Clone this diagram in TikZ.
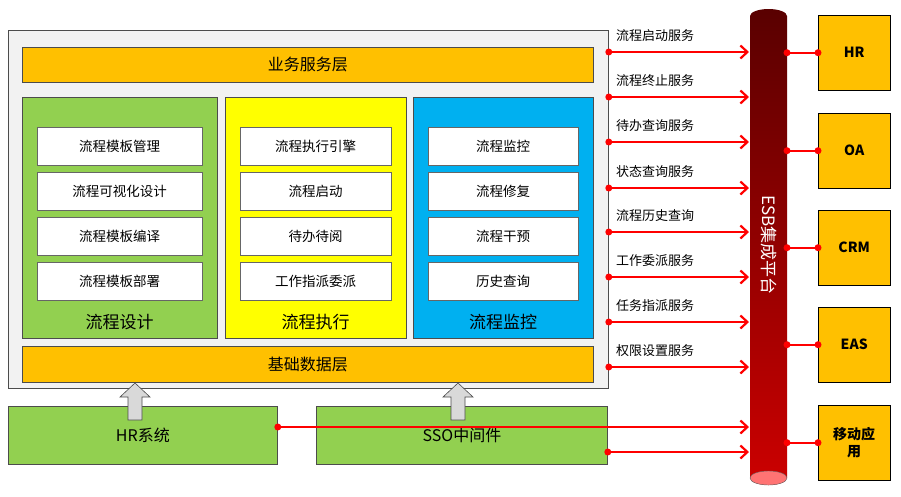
\documentclass[tikz,border=0pt]{standalone}
\usepackage{fontspec}
\setmainfont{Noto Sans CJK SC}
\usetikzlibrary{arrows.meta,shapes.geometric,calc}
\definecolor{org}{HTML}{FFC000}
\definecolor{grn}{HTML}{92D050}
\definecolor{ylw}{HTML}{FFFF00}
\definecolor{blu}{HTML}{00B0F0}
\begin{document}
\begin{tikzpicture}[x=1pt,y=-1pt,
  box/.style={draw=black!70,line width=0.8pt,minimum width=#1,anchor=north west,inner sep=0pt},
  wb/.style={draw=black!60,fill=white,minimum width=165pt,minimum height=38pt,anchor=north west,font=\fontsize{13.5}{14}\selectfont},
  rb/.style={draw=black,fill=org,minimum width=72pt,minimum height=75pt,anchor=north west,font=\bfseries\fontsize{14}{17}\selectfont,align=center},
  ar/.style={red,line width=2.2pt,-{Straight Barb[length=7pt,width=13pt]}},
  ln/.style={red,line width=2.2pt},
  dt/.style={circle,fill=red,inner sep=0pt,minimum size=7pt},
  lb/.style={anchor=west,font=\fontsize{13}{14}\selectfont,inner sep=1pt},
  up/.style={draw=black!70,fill=black!15,line width=0.6pt}]
\useasboundingbox (0,0) rectangle (901,496);
\node[box=600pt,minimum height=358pt,fill=black!5] (outer) at (8,30) {};
\node[box=571pt,minimum height=35pt,fill=org,font=\fontsize{16}{17}\selectfont] (yw) at (22,47) {业务服务层};
\node[box=195pt,minimum height=241pt,fill=grn] (p1) at (22,97) {};
\node[box=181pt,minimum height=241pt,fill=ylw] (p2) at (225,97) {};
\node[box=180pt,minimum height=241pt,fill=blu] (p3) at (413,97) {};
\node[font=\fontsize{17}{18}\selectfont] (t1) at (119.5,322) {流程设计};
\node[font=\fontsize{17}{18}\selectfont] (t2) at (315.5,322) {流程执行};
\node[font=\fontsize{17}{18}\selectfont] (t3) at (503,322) {流程监控};
\foreach \n/\y/\t in {a1/127/流程模板管理,a2/172/流程可视化设计,a3/217/流程模板编译,a4/262/流程模板部署}
  \node[wb] (\n) at (37,\y) {\t};
\foreach \n/\y/\t in {b1/127/流程执行引擎,b2/172/流程启动,b3/217/待办待阅,b4/262/工作指派委派}
  \node[wb,minimum width=151pt] (\n) at (240,\y) {\t};
\foreach \n/\y/\t in {c1/127/流程监控,c2/172/流程修复,c3/217/流程干预,c4/262/历史查询}
  \node[wb,minimum width=150pt] (\n) at (428,\y) {\t};
\node[box=571pt,minimum height=36pt,fill=org,font=\fontsize{16}{17}\selectfont] (jc) at (22,346) {基础数据层};
\node[box=269pt,minimum height=58pt,fill=grn,font=\fontsize{16}{17}\selectfont] (hr) at (8,406) {HR系统};
\node[box=291pt,minimum height=58pt,fill=grn,font=\fontsize{16}{17}\selectfont] (sso) at (316,406) {SSO中间件};
\foreach \x in {135,458}
  \draw[up] (\x-7,420) -- (\x-7,397) -- (\x-15,397) -- (\x,383) -- (\x+15,397) -- (\x+7,397) -- (\x+7,420) -- cycle;
% ESB cylinder
\shade[top color=red!35!black, bottom color=red!80!black] (750,16) -- (750,478) arc[start angle=180,end angle=360,x radius=18.5pt,y radius=7pt] -- (787,16) arc[start angle=0,end angle=180,x radius=18.5pt,y radius=7pt] -- cycle;
\draw[black!60,fill=red!55!white] (768.5,478) ellipse[x radius=18.5pt,y radius=7pt];
\node[rotate=-90,text=white,font=\fontsize{17}{18}\selectfont] (esb) at (768.5,245) {ESB集成平台};
\coordinate (esbL) at (749,0);
\coordinate (esbR) at (787,0);
% right boxes
\foreach \n/\y/\t in {r1/15/HR,r2/113/OA,r3/210/CRM,r4/307/EAS,r5/405/移动应\\用}{
  \node[rb] (\n) at (818,\y) {\t};
  \draw[ln] (esbR |- \n.west) node[dt]{} -- (\n.west) node[dt]{};
}
% service arrows
\foreach \y/\t in {52/流程启动服务,97/流程终止服务,142/待办查询服务,188/状态查询服务,232/流程历史查询,277/工作委派服务,322/任务指派服务,367/权限设置服务}{
  \draw[ar] (outer.east |- 0,\y) node[dt]{} -- (esbL |- 0,\y);
  \node[lb] at (615,\y-16) {\t};
}
\draw[ar] (hr.east |- 0,427) node[dt]{} -- (esbL |- 0,427);
\draw[ar] (sso.east |- 0,452) node[dt]{} -- (esbL |- 0,452);
\end{tikzpicture}
\end{document}
